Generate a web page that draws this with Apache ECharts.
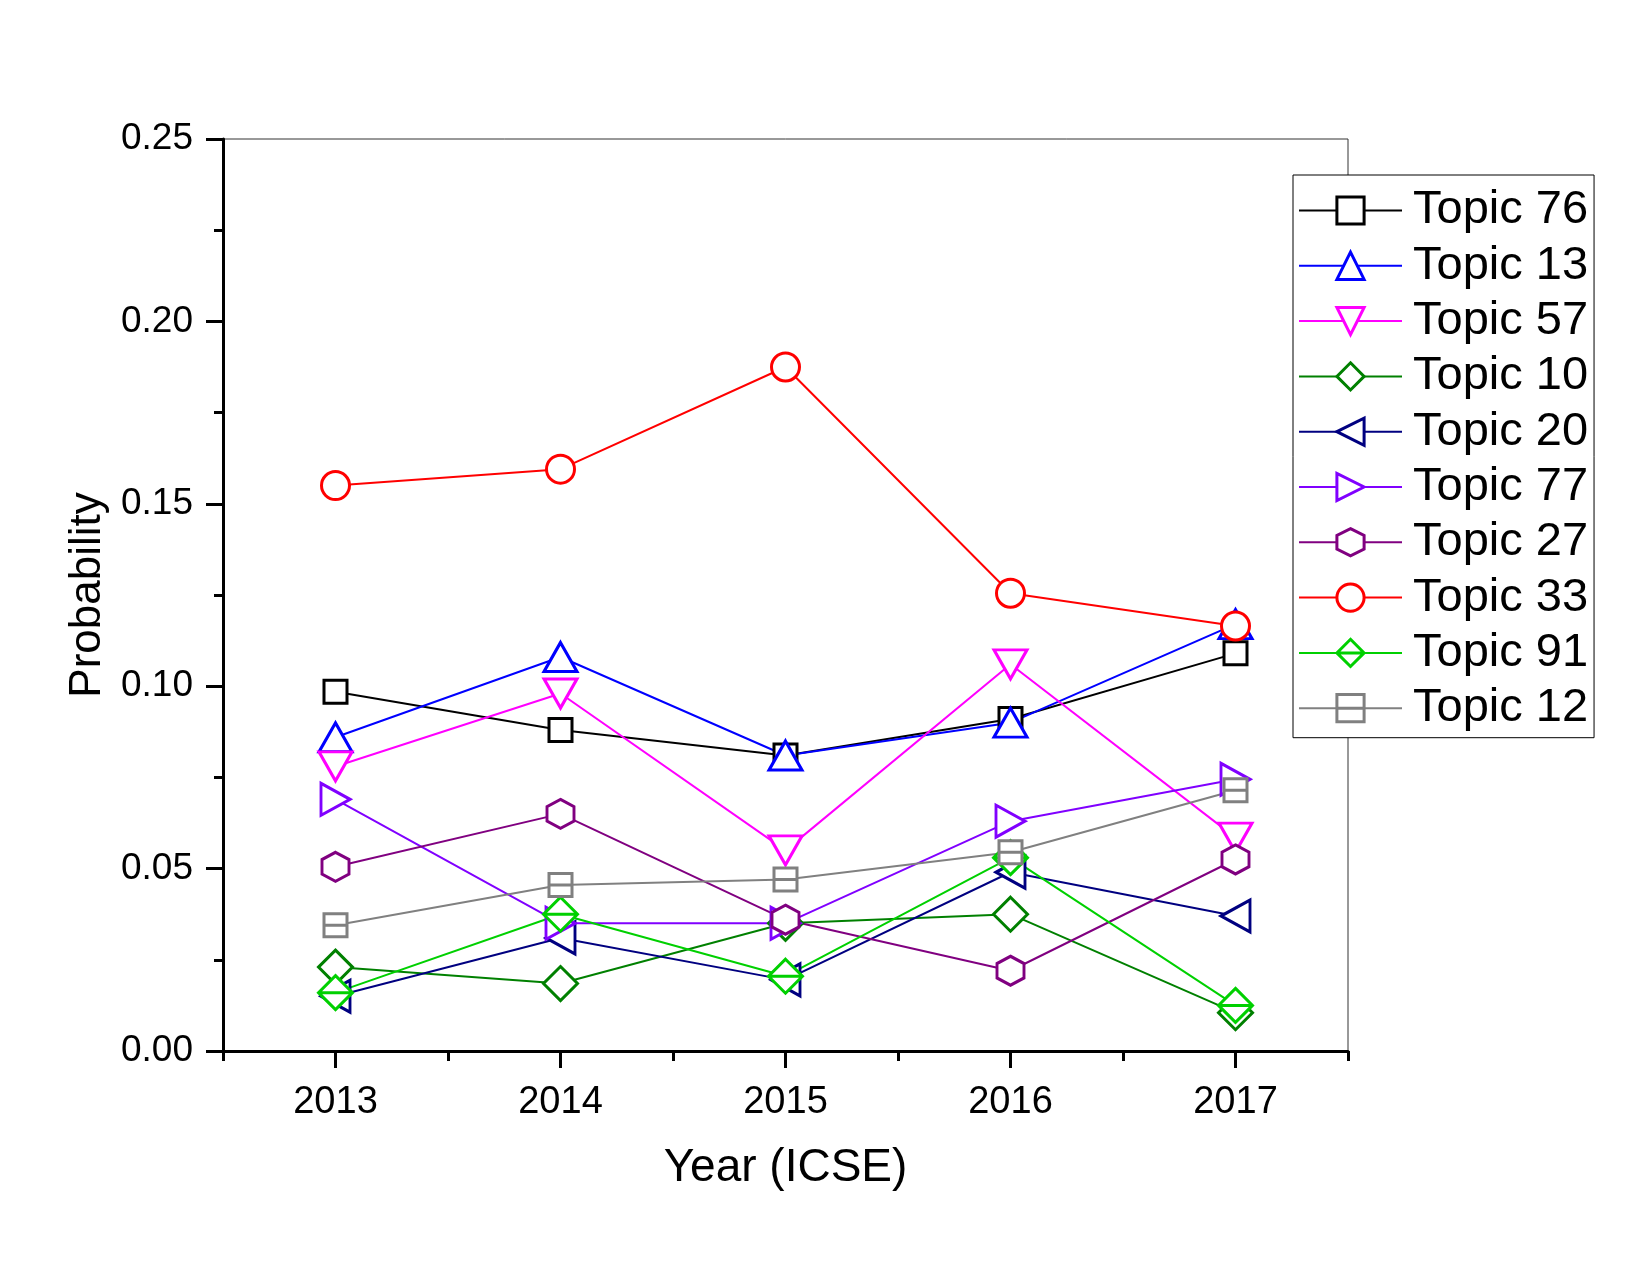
<!DOCTYPE html>
<html><head><meta charset="utf-8">
<script src="https://cdn.jsdelivr.net/npm/echarts@6/dist/echarts.min.js"></script>
<style>html,body{margin:0;padding:0;background:#fff}#c{width:1650px;height:1275px}</style>
</head><body><div id="c"></div>
<script>
// ---- data ----
const years = ['2013', '2014', '2015', '2016', '2017'];
const topicNames = ['Topic 76', 'Topic 13', 'Topic 57', 'Topic 10', 'Topic 20', 'Topic 77', 'Topic 27', 'Topic 33', 'Topic 91', 'Topic 12'];
const topic76 = [0.0985, 0.088, 0.081, 0.091, 0.109];
const topic13 = [0.086, 0.108, 0.081, 0.090, 0.117];
const topic57 = [0.078, 0.098, 0.055, 0.106, 0.0585];
const topic10 = [0.023, 0.0185, 0.035, 0.0375, 0.0105];
const topic20 = [0.015, 0.031, 0.0195, 0.049, 0.037];
const topic77 = [0.069, 0.035, 0.035, 0.063, 0.0745];
const topic27 = [0.0505, 0.065, 0.036, 0.022, 0.0525];
const topic33 = [0.155, 0.1595, 0.1875, 0.1255, 0.1165];
const topic91 = [0.016, 0.0375, 0.0205, 0.053, 0.0125];
const topic12 = [0.0345, 0.0455, 0.047, 0.0545, 0.0715];
const seriesValues = [topic76, topic13, topic57, topic10, topic20, topic77, topic27, topic33, topic91, topic12];

// ---- styles ----
const HEX = 'path://M0,-1 L0.866,-0.5 L0.866,0.5 L0,1 L-0.866,0.5 L-0.866,-0.5 Z';
const DIAMOND_LINE = 'path://M0,-1 L1,0 L0,1 L-1,0 Z M-1,0 L1,0';
const RECT_LINE = 'path://M-1,-1 L1,-1 L1,1 L-1,1 Z M-1,0 L1,0';
const styles = [
  { color: '#000000', symbol: 'rect', size: 23, rotate: 0 },
  { color: '#0000ff', symbol: 'triangle', size: [33, 29], rotate: 0 },
  { color: '#ff00ff', symbol: 'triangle', size: [33, 29], rotate: 180 },
  { color: '#008000', symbol: 'diamond', size: 34, rotate: 0 },
  { color: '#000080', symbol: 'triangle', size: [32, 29], rotate: 90 },
  { color: '#8000ff', symbol: 'triangle', size: [32, 29], rotate: -90 },
  { color: '#800080', symbol: HEX, size: [27, 29], rotate: 0 },
  { color: '#ff0000', symbol: 'circle', size: 28, rotate: 0 },
  { color: '#00d000', symbol: DIAMOND_LINE, size: 34, rotate: 0 },
  { color: '#808080', symbol: RECT_LINE, size: 23, rotate: 0 }
];
const FONT = '"Liberation Sans", Arial, Helvetica, sans-serif';

const series = topicNames.map((name, i) => ({
  name: name,
  type: 'line',
  xAxisIndex: 0,
  data: seriesValues[i],
  symbol: styles[i].symbol,
  symbolSize: styles[i].size,
  symbolRotate: styles[i].rotate,
  showAllSymbol: true,
  lineStyle: { color: styles[i].color, width: 2 },
  itemStyle: { color: '#ffffff', borderColor: styles[i].color, borderWidth: 3 },
  emphasis: { disabled: true },
  z: 3
}));

const legendData = topicNames.map((name, i) => ({
  name: name,
  itemStyle: { color: '#ffffff', borderColor: styles[i].color, borderWidth: 3 },
  lineStyle: { color: styles[i].color, width: 2 }
}));

const chart = echarts.init(document.getElementById('c'), null, { renderer: 'canvas' });
chart.setOption({
  animation: false,
  backgroundColor: '#ffffff',
  grid: {
    left: 223, top: 139, right: 302, bottom: 224,
    show: true, borderColor: '#333333', borderWidth: 1, backgroundColor: 'transparent'
  },
  legend: {
    orient: 'vertical',
    left: 1293, top: 175,
    padding: [12, 6, 6, 5],
    borderColor: '#000000', borderWidth: 1,
    backgroundColor: '#ffffff',
    itemWidth: 103, itemHeight: 34, itemGap: 8.3,
    textStyle: { fontFamily: FONT, fontSize: 47, color: '#000', lineHeight: 45, padding: [0, 0, 0, 6] },
    data: legendData,
    selectedMode: false
  },
  xAxis: [
    {
      type: 'category', data: years, boundaryGap: true, position: 'bottom',
      name: 'Year (ICSE)', nameLocation: 'middle', nameGap: 94,
      nameTextStyle: { fontFamily: FONT, fontSize: 46, color: '#000' },
      axisLine: { show: true, lineStyle: { color: '#000', width: 3 } },
      axisTick: { show: true, alignWithLabel: true, length: 17, lineStyle: { color: '#000', width: 3 } },
      axisLabel: { fontFamily: FONT, fontSize: 38, color: '#000', margin: 33 },
      splitLine: { show: false }
    },
    {
      type: 'category', data: years, boundaryGap: true, position: 'bottom',
      axisLine: { show: false },
      axisTick: { show: true, alignWithLabel: false, length: 10, lineStyle: { color: '#000', width: 3 } },
      axisLabel: { show: false },
      splitLine: { show: false }
    }
  ],
  yAxis: {
    type: 'value', min: 0, max: 0.25, interval: 0.05,
    name: 'Probability', nameLocation: 'middle', nameGap: 86,
    nameTextStyle: { fontFamily: FONT, fontSize: 44, color: '#000' },
    axisLine: { show: true, lineStyle: { color: '#000', width: 3 } },
    axisTick: { show: true, length: 17, lineStyle: { color: '#000', width: 3 } },
    minorTick: { show: true, splitNumber: 2, length: 9, lineStyle: { color: '#000', width: 3 } },
    axisLabel: { fontFamily: FONT, fontSize: 37, color: '#000', margin: 30, formatter: v => v.toFixed(2) },
    splitLine: { show: false }
  },
  series: series
});
</script>
</body></html>
